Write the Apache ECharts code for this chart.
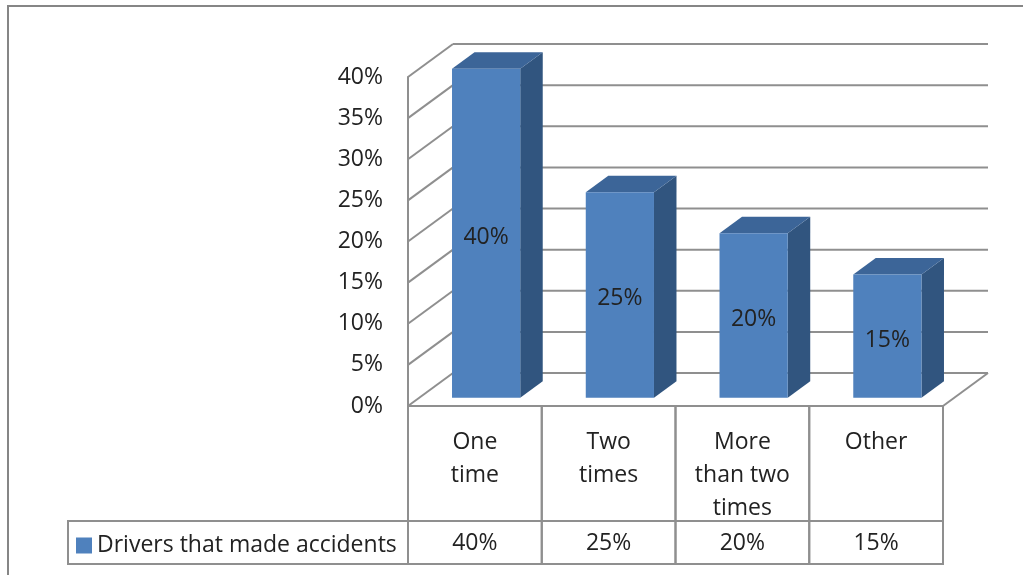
<!DOCTYPE html>
<html>
<head>
<meta charset="utf-8">
<title>Drivers that made accidents</title>
<script src="https://cdn.jsdelivr.net/npm/echarts@6/dist/echarts.min.js"></script>
<style>
    html, body {
        margin: 0;
        padding: 0;
        background: #fff;
    }

    #chart {
        width: 1023px;
        height: 575px;
    }
</style>
</head>
<body>
<div id="chart"></div>
<script>
// data
const categories = ['One\ntime', 'Two\ntimes', 'More\nthan two\ntimes', 'Other']
const driverShares = [40, 25, 20, 15]
const percentTicks = [0, 5, 10, 15, 20, 25, 30, 35, 40]
const seriesName = 'Drivers that made accidents'

// fake 3d depth of the plot box (px)
const DX = 45
const DY = -33
const FONT = '"Open Sans", "Noto Sans", sans-serif'
const LINE = '#8f8f8f'
const TEXT = '#222'

let myChart = echarts.init(document.getElementById('chart'))

myChart.setOption({
    animation: false,
    backgroundColor: '#fff',
    grid: {
        left: 408,
        top: 77,
        width: 535,
        height: 329
    },
    legend: {
        data: [seriesName],
        left: 76,
        top: 534,
        padding: 0,
        icon: 'rect',
        itemWidth: 16,
        itemHeight: 16,
        selectedMode: false,
        textStyle: {
            fontFamily: FONT,
            fontSize: 23,
            lineHeight: 16,
            color: TEXT
        }
    },
    xAxis: {
        type: 'category',
        data: categories,
        axisLine: { show: true, lineStyle: { color: LINE, width: 2 } },
        axisTick: { show: false },
        axisLabel: { show: false }
    },
    yAxis: {
        type: 'value',
        min: 0,
        max: 40,
        interval: 5,
        axisLine: { show: true, lineStyle: { color: LINE, width: 2 } },
        axisTick: { show: false },
        splitLine: { show: false },
        axisLabel: {
            formatter: '{value}%',
            margin: 25,
            padding: [4, 0, 0, 0],
            fontFamily: FONT,
            fontSize: 23,
            color: TEXT
        }
    },
    graphic: [
        {
            // outer chart frame
            type: 'rect',
            shape: { x: 8, y: 6, width: 1040, height: 600 },
            style: { fill: null, stroke: '#868686', lineWidth: 2 },
            silent: true
        }
    ],
    series: [
        {
            // side wall + back wall grid lines
            type: 'custom',
            name: 'walls',
            z: 1,
            silent: true,
            data: percentTicks.map(v => [0, v]),
            renderItem: function (params, api) {
                let v = api.value(1)
                let y = api.coord([0, v])[1]
                let x0 = params.coordSys.x
                let x1 = x0 + params.coordSys.width
                let st = { stroke: LINE, lineWidth: 2 }
                let kids = [
                    { type: 'line', shape: { x1: x0, y1: y, x2: x0 + DX, y2: y + DY }, style: st },
                    { type: 'line', shape: { x1: x0 + DX, y1: y + DY, x2: x1 + DX, y2: y + DY }, style: st }
                ]
                if (v === 0) {
                    kids.push({ type: 'line', shape: { x1: x1, y1: y, x2: x1 + DX, y2: y + DY }, style: st })
                }
                return { type: 'group', children: kids }
            }
        },
        {
            // 3d bars
            type: 'custom',
            name: seriesName,
            z: 3,
            itemStyle: { color: '#4F81BD' },
            data: driverShares.map((v, i) => [i, v]),
            renderItem: function (params, api) {
                let idx = api.value(0)
                let val = api.value(1)
                let top = api.coord([idx, val])
                let bot = api.coord([idx, 0])
                let w = api.size([1, 0])[0] * 0.51
                let d0x = DX * 0.25, d0y = DY * 0.25
                let d1x = DX * 0.75, d1y = DY * 0.75
                let xl = top[0] - w / 2 + d0x
                let xr = top[0] + w / 2 + d0x
                let yt = top[1] + d0y
                let yb = bot[1] + d0y
                let sx = d1x - d0x, sy = d1y - d0y
                return {
                    type: 'group',
                    children: [
                        {
                            type: 'polygon',
                            shape: { points: [[xr, yt], [xr + sx, yt + sy], [xr + sx, yb + sy], [xr, yb]] },
                            style: { fill: '#31557F' }
                        },
                        {
                            type: 'polygon',
                            shape: { points: [[xl, yt], [xr, yt], [xr + sx, yt + sy], [xl + sx, yt + sy]] },
                            style: { fill: '#3C6598' }
                        },
                        {
                            type: 'rect',
                            shape: { x: xl, y: yt, width: xr - xl, height: yb - yt },
                            style: { fill: '#4F81BD' }
                        },
                        {
                            type: 'text',
                            style: {
                                text: val + '%',
                                x: (xl + xr) / 2,
                                y: (yt + yb) / 2 + 4,
                                align: 'center',
                                verticalAlign: 'middle',
                                fontFamily: FONT,
                                fontSize: 23,
                                fill: TEXT
                            }
                        }
                    ]
                }
            }
        },
        {
            // data table under the plot
            type: 'custom',
            name: 'table',
            z: 2,
            silent: true,
            data: driverShares.map((v, i) => [i, v]),
            renderItem: function (params, api) {
                let idx = api.value(0)
                let p = api.coord([idx, 0])
                let band = api.size([1, 0])[0]
                let xl = p[0] - band / 2
                let y0 = p[1]
                let st = { fill: null, stroke: LINE, lineWidth: 2 }
                let kids = [
                    { type: 'rect', shape: { x: xl, y: y0, width: band, height: 115 }, style: st },
                    { type: 'rect', shape: { x: xl, y: y0 + 115, width: band, height: 43 }, style: st },
                    {
                        type: 'text',
                        style: {
                            text: categories[idx],
                            x: p[0],
                            y: y0 + 20,
                            align: 'center',
                            verticalAlign: 'top',
                            lineHeight: 33,
                            fontFamily: FONT,
                            fontSize: 23,
                            fill: TEXT
                        }
                    },
                    {
                        type: 'text',
                        style: {
                            text: api.value(1) + '%',
                            x: p[0],
                            y: y0 + 137,
                            align: 'center',
                            verticalAlign: 'middle',
                            fontFamily: FONT,
                            fontSize: 23,
                            fill: TEXT
                        }
                    }
                ]
                if (idx === 0) {
                    kids.push({ type: 'rect', shape: { x: 68, y: y0 + 115, width: xl - 68, height: 43 }, style: st })
                }
                return { type: 'group', children: kids }
            }
        }
    ]
})
</script>
</body>
</html>
